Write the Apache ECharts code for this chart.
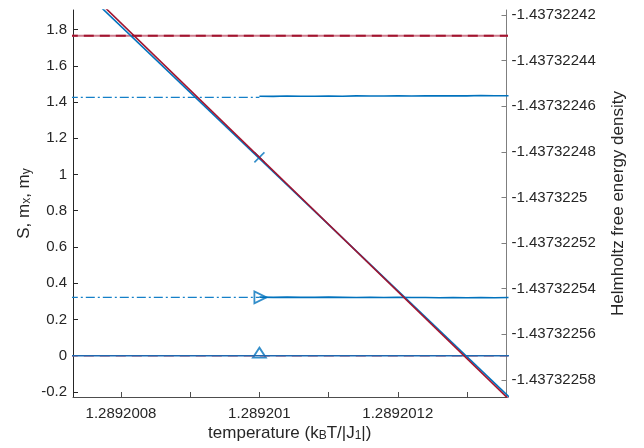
<!DOCTYPE html>
<html><head><meta charset="utf-8">
<script src="https://cdn.jsdelivr.net/npm/echarts@6/dist/echarts.min.js"></script>
<style>html,body{margin:0;padding:0;background:#fff}#c{width:644px;height:448px}</style>
</head><body><div id="c"></div>
<script>
// ---- data ----
const xTicks = [1.2892008, 1.2892009, 1.289201, 1.2892011, 1.2892012, 1.2892013];
const xLabelTicks = [1.2892008, 1.289201, 1.2892012];
const leftTicks = [-0.2, 0, 0.2, 0.4, 0.6, 0.8, 1, 1.2, 1.4, 1.6, 1.8];
const rightTicks = [-1.43732258, -1.43732256, -1.43732254, -1.43732252, -1.4373225,
                    -1.43732248, -1.43732246, -1.43732244, -1.43732242];
const xRange = [1.28920073064, 1.28920135708];
const leftRange = [-0.228, 1.908];
const rightRange = [-1.4373225875, -1.4373224178];

const lineT = [1.2892007, 1.2892014];
const freeRed = [-1.4373223941, -1.4373226001];
const freeBlue = [-1.4373223960, -1.4373225988];

const sHigh = [1.766, 1.766];
const sZero = [0, 0];

const refT = [1.2892007, 1.289201];
const mxRef = [1.426, 1.426];
const myRef = [0.322, 0.322];

const noisyT = [1.289201, 1.28920102, 1.28920104, 1.28920106, 1.28920108, 1.2892011,
  1.28920112, 1.28920114, 1.28920116, 1.28920118, 1.2892012, 1.28920122, 1.28920124,
  1.28920126, 1.28920128, 1.2892013, 1.28920132, 1.28920134, 1.28920136];
const mxNoisy = [1.432, 1.431, 1.433, 1.432, 1.432, 1.433, 1.432, 1.434, 1.433, 1.433,
  1.434, 1.433, 1.435, 1.434, 1.435, 1.434, 1.436, 1.435, 1.435];
const myNoisy = [0.323, 0.322, 0.323, 0.322, 0.322, 0.323, 0.322, 0.321, 0.322, 0.321,
  0.322, 0.321, 0.321, 0.320, 0.321, 0.320, 0.321, 0.320, 0.321];

const markT = 1.289201;
const markF = -1.4373224824;
const markMx = 0.322;
const markMy = 0;

// ---- chart ----
const BLUE = '#0072BD', RED = '#A2142F', AX = '#262626';
const zip = (a, b) => a.map((v, i) => [v, b[i]]);
const font = '"Liberation Sans", Arial, Helvetica, sans-serif';
const subRich = {
  n: {fontSize: 17, fontFamily: font, color: AX, verticalAlign: 'bottom', lineHeight: 19},
  s: {fontSize: 12, fontFamily: font, color: AX, verticalAlign: 'bottom', lineHeight: 12, padding: [13, 0, 0, 0]}
};
const fmt = (d) => (v) => String(parseFloat(v.toFixed(d)));

const chart = echarts.init(document.getElementById('c'), null, {renderer: 'canvas'});
chart.setOption({
  animation: false,
  backgroundColor: '#fff',
  grid: {left: 73, right: 137.5, top: 10, bottom: 51, containLabel: false, outerBoundsMode: 'none'},
  xAxis: {
    type: 'value', min: xRange[0], max: xRange[1],
    axisLine: {show: true, onZero: false, lineStyle: {color: '#4d4d4d', width: 1}},
    axisTick: {show: true, inside: true, length: 5, customValues: xTicks, lineStyle: {color: '#4d4d4d'}},
    axisLabel: {customValues: xLabelTicks, formatter: fmt(7), fontSize: 15, fontFamily: font, color: AX, margin: 9},
    splitLine: {show: false},
    name: '{n|temperature (k}{s|B}{n|T/|J}{s|1}{n||)}',
    nameLocation: 'middle', nameGap: 26, nameMoveOverlap: false,
    nameTextStyle: {rich: subRich}
  },
  yAxis: [{
    type: 'value', min: leftRange[0], max: leftRange[1], position: 'left',
    axisLine: {show: true, onZero: false, lineStyle: {color: AX, width: 1}},
    axisTick: {show: true, inside: true, length: 5, customValues: leftTicks, lineStyle: {color: AX}},
    axisLabel: {customValues: leftTicks, formatter: fmt(1), fontSize: 15, fontFamily: font, color: AX, margin: 6},
    splitLine: {show: false},
    name: '{n|S, m}{s|x}{n|, m}{s|y}',
    nameLocation: 'middle', nameRotate: 90, nameGap: 40, nameMoveOverlap: false,
    nameTextStyle: {rich: subRich}
  }, {
    type: 'value', min: rightRange[0], max: rightRange[1], position: 'right',
    axisLine: {show: true, onZero: false, lineStyle: {color: '#7f7f7f', width: 1}},
    axisTick: {show: true, inside: true, length: 5, customValues: rightTicks, lineStyle: {color: '#7f7f7f'}},
    axisLabel: {customValues: rightTicks, formatter: fmt(8), fontSize: 15, fontFamily: font, color: AX, margin: 5},
    splitLine: {show: false},
    name: 'Helmholtz free energy density',
    nameLocation: 'middle', nameRotate: 90, nameGap: 103, nameMoveOverlap: false,
    nameTextStyle: {fontSize: 17, fontFamily: font, color: AX}
  }],
  series: [
    {type: 'line', yAxisIndex: 0, data: zip(lineT, sHigh), showSymbol: false, silent: true,
     lineStyle: {color: '#cf7d8e', width: 2}},
    {type: 'line', yAxisIndex: 0, data: zip(lineT, sHigh), showSymbol: false, silent: true,
     lineStyle: {color: RED, width: 2, type: [10, 6]}},
    {type: 'line', yAxisIndex: 0, data: zip(lineT, sZero), showSymbol: false, silent: true,
     lineStyle: {color: '#d94055', width: 1.5, type: [10, 6]}},
    {type: 'line', yAxisIndex: 0, data: zip(lineT, sZero), showSymbol: false, silent: true,
     lineStyle: {color: '#1f68b0', width: 1.6}},
    {type: 'line', yAxisIndex: 0, data: zip(refT, mxRef), showSymbol: false, silent: true,
     lineStyle: {color: '#1580c8', width: 1.2, type: [9, 3, 2, 3]}},
    {type: 'line', yAxisIndex: 0, data: zip(refT, myRef), showSymbol: false, silent: true,
     lineStyle: {color: '#1580c8', width: 1.2, type: [9, 3, 2, 3]}},
    {type: 'line', yAxisIndex: 0, data: zip(noisyT, mxNoisy), showSymbol: false, silent: true,
     lineStyle: {color: BLUE, width: 1.6}},
    {type: 'line', yAxisIndex: 0, data: zip(noisyT, myNoisy), showSymbol: false, silent: true,
     lineStyle: {color: BLUE, width: 1.6}},
    {type: 'line', yAxisIndex: 1, data: zip(lineT, freeBlue), showSymbol: false, silent: true,
     lineStyle: {color: BLUE, width: 1.6}},
    {type: 'line', yAxisIndex: 1, data: zip(lineT, freeRed), showSymbol: false, silent: true,
     lineStyle: {color: RED, width: 1.6}},
    {type: 'scatter', yAxisIndex: 1, data: [[markT, markF]], silent: true,
     symbol: 'path://M0,0L5,5L10,0L5,5L10,10L5,5L0,10L5,5Z', symbolSize: 10,
     itemStyle: {color: 'rgba(0,0,0,0)', borderColor: BLUE, borderWidth: 1.6}},
    {type: 'scatter', yAxisIndex: 0, data: [[markT, markMx]], silent: true,
     symbol: 'triangle', symbolSize: [12, 12], symbolRotate: -90, symbolOffset: [1, 0],
     itemStyle: {color: 'rgba(0,0,0,0)', borderColor: BLUE, borderWidth: 1.8}},
    {type: 'scatter', yAxisIndex: 0, data: [[markT, markMy]], silent: true,
     symbol: 'triangle', symbolSize: [13, 10], symbolOffset: [0, -3],
     itemStyle: {color: 'rgba(0,0,0,0)', borderColor: BLUE, borderWidth: 1.8}}
  ]
});
</script></body></html>
